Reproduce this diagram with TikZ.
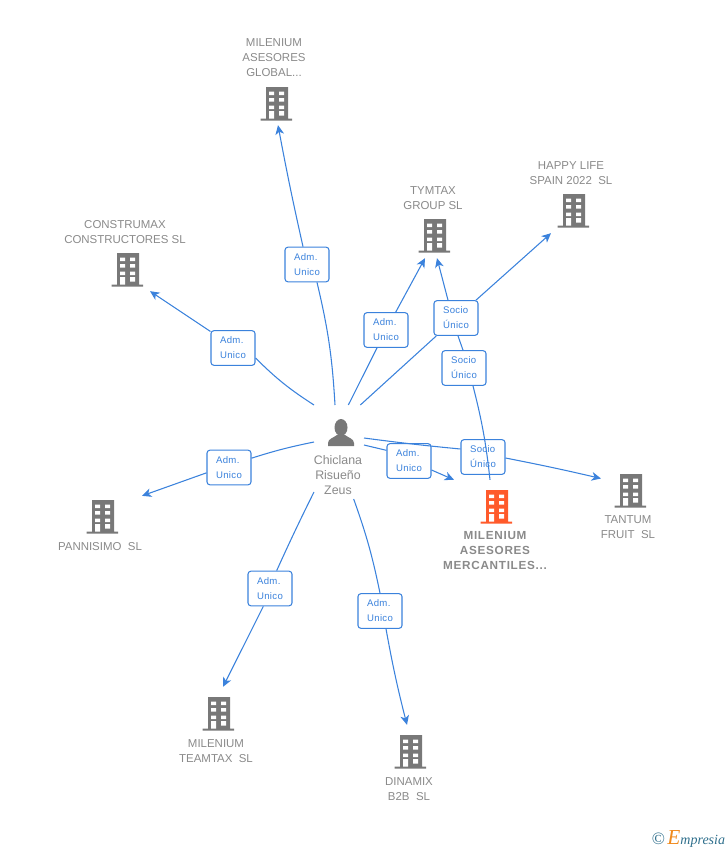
\documentclass[tikz,border=0pt]{standalone}
\usepackage{fontspec}
\setmainfont{Liberation Sans}
\newfontfamily\logofont{Liberation Serif}
\usetikzlibrary{arrows.meta, positioning}
\definecolor{linkblue}{HTML}{3B82DC}
\definecolor{txtgrey}{HTML}{8A8A8A}
\definecolor{iconhot}{HTML}{FF5A2B}
\definecolor{icongrey}{HTML}{787878}
\definecolor{logoteal}{HTML}{2F6F8C}
\definecolor{logoorange}{HTML}{F08A1D}
\tikzset{
  rolebox/.style={draw=linkblue, fill=white, rounded corners=2.2pt, line width=.8pt,
    minimum width=33pt, minimum height=26pt, inner sep=0pt, align=left, text=linkblue,
    font=\fontsize{7.2}{11.2}\selectfont\addfontfeatures{LetterSpace=3}},
  firmname/.style={align=center, text=txtgrey, inner sep=0pt, font=\fontsize{8.6}{11.25}\selectfont},
  bldg/.style={minimum width=24pt, minimum height=25pt, inner sep=0pt, outer sep=0pt,
    path picture={
      \begin{scope}[shift={(path picture bounding box.center)}]
        \fill[#1] (-10,-16.5) rectangle (12,15) (-15.5,15) rectangle (16.5,17);
        \fill[white] (-7,-12) rectangle (-2,-8.5) (3,-12) rectangle (8,-8.5)
          (-7,-5.5) rectangle (-2,-2) (3,-5.5) rectangle (8,-2)
          (-7,2) rectangle (-2,5.5) (3,2) rectangle (8,5.5)
          (-7,7.5) rectangle (-2,15) (3,7.5) rectangle (8,12);
      \end{scope}
    }},
  personicon/.style={minimum width=37.5pt, minimum height=70.5pt, inner sep=0pt, outer sep=0pt,
    path picture={
      \begin{scope}[shift={(path picture bounding box.center)}]
        \fill[icongrey] (2,-24.5) ellipse (6.5 and 8.5);
        \fill[icongrey] (-11,-6) -- (-11,-9) .. controls (-11,-13) and (-6,-14) .. (-2,-17)
          -- (6,-17) .. controls (10,-14) and (15,-13) .. (15,-9) -- (15,-6) -- cycle;
      \end{scope}
    }},
  link/.style={draw=linkblue, line width=.8pt},
  linkto/.style={link, -{Stealth[length=7pt, width=6.5pt, inset=2pt]}}
}
\begin{document}
\begin{tikzpicture}[x=.75pt, y=-.75pt]
\useasboundingbox (0,0) rectangle (728,850);
% people and firms
\node[personicon] (zeus) at (339,452) {};
\node[bldg=icongrey] (global) at (276,103.5) {};
\node[bldg=icongrey] (construmax) at (127,269.5) {};
\node[bldg=icongrey] (tymtax) at (434,235.5) {};
\node[bldg=icongrey] (happy) at (573,210.5) {};
\node[bldg=icongrey] (tantum) at (630,490.5) {};
\node[bldg=iconhot] (mercantiles) at (496,506.5) {};
\node[bldg=icongrey] (pannisimo) at (102,516.5) {};
\node[bldg=icongrey] (teamtax) at (218,713.5) {};
\node[bldg=icongrey] (dinamix) at (410,751.5) {};
% role boxes
\node[rolebox] (rglobal) at (307,264.5) {Adm.\\Unico};
\node[rolebox] (rconstrumax) at (233,348) {Adm.\\Unico};
\node[rolebox] (rtymtax) at (386,330) {Adm.\\Unico};
\node[rolebox] (rhappy) at (456,318) {Socio\\Único};
\node[rolebox] (rsocio) at (464,368) {Socio\\Único};
\node[rolebox] (rtantum) at (483,457) {Socio\\Único};
\node[rolebox] (rmerc) at (409,461) {Adm.\\Unico};
\node[rolebox] (rpannisimo) at (229,467.5) {Adm.\\Unico};
\node[rolebox] (rteamtax) at (270,588.5) {Adm.\\Unico};
\node[rolebox] (rdinamix) at (380,611) {Adm.\\Unico};
% links
\draw[link] ([xshift=-3pt]zeus.north) to[bend right=5] ([xshift=7.5pt]rglobal.south);
\draw[linkto] ([xshift=-3pt]rglobal.north) to[bend left=1] ([shift={(2,5)}]global.south);
\draw[link] (zeus.north west) to[bend left=6] ([yshift=-7.5pt]rconstrumax.east);
\draw[linkto] ([yshift=-1pt]rconstrumax.north west) -- ([shift={(7,5)}]construmax.south east);
\draw[link] ([xshift=7pt]zeus.north) -- (rtymtax);
\draw[linkto] (rtymtax) -- ([shift={(-9,6)}]tymtax.south);
\draw[link] ([xshift=16pt]zeus.north) -- (rhappy);
\draw[linkto] (rhappy) -- ([shift={(-6,6)}]happy.south west);
\draw[link] ([xshift=-.75pt]rsocio.north) -- ([xshift=1.5pt]rhappy.south);
\draw[linkto] ([xshift=-6pt]rhappy.north) -- ([shift={(3,6)}]tymtax.south);
\draw[link] ([yshift=10.5pt]zeus.east) to[bend right=1] ([yshift=6pt]rtantum.west);
\draw[linkto] ([yshift=-.75pt]rtantum.east) to[bend left=1] ([shift={(-13,-12)}]tantum.west);
\draw[link] ([yshift=5.25pt]zeus.east) -- ([yshift=8pt]rmerc.west);
\draw[linkto] ([yshift=-6.75pt]rmerc.east) -- ([shift={(-26,-10)}]mercantiles.north west);
\draw[link] ([yshift=7.5pt]zeus.west) to[bend right=3] ([yshift=7pt]rpannisimo.east);
\draw[linkto] ([yshift=-4pt]rpannisimo.west) -- ([shift={(24,-4)}]pannisimo.north east);
\draw[link] ([yshift=5.25pt]zeus.south west) to[bend right=1] ([xshift=5pt]rteamtax.north);
\draw[linkto] ([xshift=-5pt]rteamtax.south) -- ([shift={(5,-10)}]teamtax.north);
\draw[link] ([xshift=11pt]zeus.south) to[bend left=4] (rdinamix.north);
\draw[linkto] ([xshift=4.5pt]rdinamix.south) to[bend right=2] ([shift={(-3,-10)}]dinamix.north);
% this one crosses the box
\draw[link] ([shift={(-6,-10)}]mercantiles.north) to[bend right=4] ([xshift=6.75pt]rsocio.south);
% texts
\node[align=center, text=txtgrey, inner sep=0pt, font=\fontsize{9.3}{11.25}\selectfont] (zeusname) at (338,475) {Chiclana\\Risueño\\Zeus};
\node[firmname] (nglobal) at (274,58) {MILENIUM\\ASESORES\\GLOBAL...};
\node[firmname] (nconstrumax) at (125,232.5) {CONSTRUMAX\\CONSTRUCTORES SL};
\node[firmname] (ntymtax) at (433,198.5) {TYMTAX\\GROUP SL};
\node[firmname] (nhappy) at (571,173.5) {HAPPY LIFE\\SPAIN 2022~ SL};
\node[firmname] (ntantum) at (628,527.5) {TANTUM\\FRUIT~ SL};
\node[firmname, font=\fontsize{8.8}{11.25}\selectfont\bfseries\addfontfeatures{LetterSpace=6}] (nmerc) at (495,551) {MILENIUM\\ASESORES\\MERCANTILES...};
\node[firmname] (npannisimo) at (100,546.5) {PANNISIMO~ SL};
\node[firmname] (nteamtax) at (216,751.5) {MILENIUM\\TEAMTAX~ SL};
\node[firmname] (ndinamix) at (409,789.5) {DINAMIX\\B2B~ SL};
% logo
\node[inner sep=0pt, text=logoteal, font=\logofont\fontsize{10.5}{11}\selectfont\itshape] (logo) at (688.5,839)
  {{\upshape\fontsize{13}{11}\selectfont ©}\,{\fontsize{16}{11}\selectfont\color{logoorange}E}mpresia};
\end{tikzpicture}
\end{document}
